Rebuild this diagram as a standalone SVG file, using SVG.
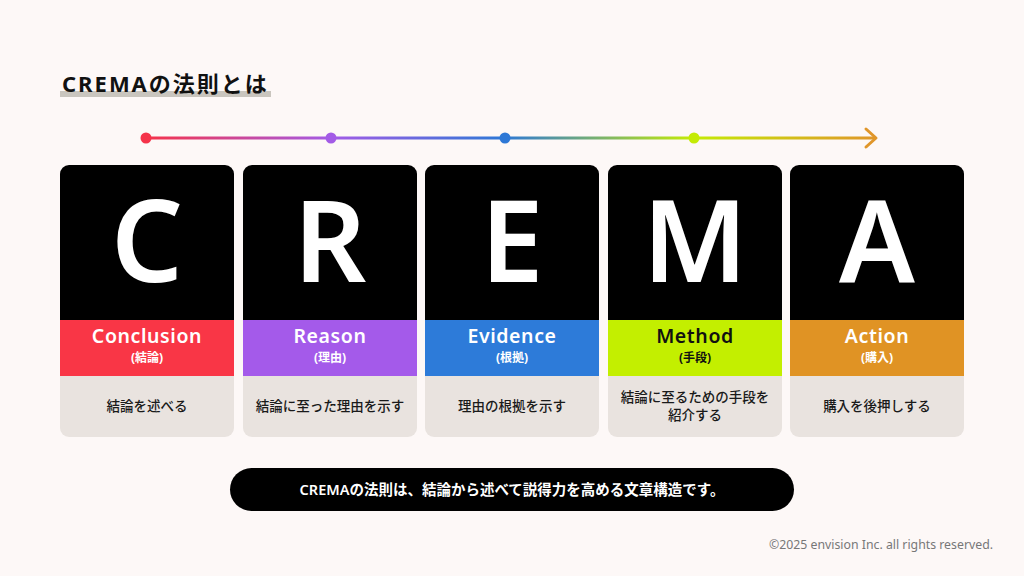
<svg xmlns="http://www.w3.org/2000/svg" width="1024" height="576" viewBox="0 0 1024 576">
<defs>
<linearGradient id="flow" x1="146" y1="0" x2="876" y2="0" gradientUnits="userSpaceOnUse">
<stop offset="0" stop-color="#F5334A"/>
<stop offset="0.253" stop-color="#A35BE6"/>
<stop offset="0.49" stop-color="#2E78D6"/>
<stop offset="0.75" stop-color="#C4EB05"/>
<stop offset="1" stop-color="#E0962A"/>
</linearGradient>
<clipPath id="cc1"><rect x="60" y="165" width="174" height="272" rx="9"/></clipPath>
<clipPath id="cc2"><rect x="243" y="165" width="174" height="272" rx="9"/></clipPath>
<clipPath id="cc3"><rect x="425" y="165" width="174" height="272" rx="9"/></clipPath>
<clipPath id="cc4"><rect x="608" y="165" width="174" height="272" rx="9"/></clipPath>
<clipPath id="cc5"><rect x="790" y="165" width="174" height="272" rx="9"/></clipPath>
</defs>
<style>
text{font-family:"Noto Sans","Noto Sans CJK JP",sans-serif}
.big{font-size:113px;font-weight:600;fill:#fff;text-anchor:middle}
.en{font-size:19.5px;font-weight:600;text-anchor:middle;letter-spacing:0.6px}
.jp{font-size:12px;font-weight:700;text-anchor:middle}
.desc{font-size:13.5px;font-weight:500;fill:#1a1a1a;text-anchor:middle}
.w{fill:#fff}
.k{fill:#111}
.gray{fill:#E9E3DF}
</style>
<rect width="1024" height="576" fill="#FDF8F7"/>

<g id="title">
<rect x="60" y="91" width="211" height="6" fill="#C9C5BE"/>
<text x="62" y="92" font-size="22" font-weight="700" fill="#111" letter-spacing="2">CREMAの法則とは</text>
</g>

<g id="connectors">
<line x1="146" y1="138" x2="875" y2="138" stroke="url(#flow)" stroke-width="3"/>
<polyline points="866,129 876,138 866,147" fill="none" stroke="#E0962A" stroke-width="3" stroke-linecap="round" stroke-linejoin="round"/>
<circle cx="146" cy="138" r="5.5" fill="#F5334A"/>
<circle cx="331" cy="138" r="5.5" fill="#A35BE6"/>
<circle cx="505" cy="138" r="5.5" fill="#2E78D6"/>
<circle cx="694" cy="138" r="5.5" fill="#C4EB05"/>
</g>

<g id="card-c" clip-path="url(#cc1)">
<rect x="60" y="165" width="174" height="155" fill="#000"/>
<rect x="60" y="320" width="174" height="56" fill="#F93646"/>
<rect x="60" y="376" width="174" height="61" class="gray"/>
<text x="147" y="282" class="big">C</text>
<text x="147" y="343" class="en w">Conclusion</text>
<text x="147" y="362" class="jp w">(結論)</text>
<text x="147" y="411" class="desc">結論を述べる</text>
</g>

<g id="card-r" clip-path="url(#cc2)">
<rect x="243" y="165" width="174" height="155" fill="#000"/>
<rect x="243" y="320" width="174" height="56" fill="#A45AEA"/>
<rect x="243" y="376" width="174" height="61" class="gray"/>
<text x="330" y="282" class="big">R</text>
<text x="330" y="343" class="en w">Reason</text>
<text x="330" y="362" class="jp w">(理由)</text>
<text x="330" y="411" class="desc">結論に至った理由を示す</text>
</g>

<g id="card-e" clip-path="url(#cc3)">
<rect x="425" y="165" width="174" height="155" fill="#000"/>
<rect x="425" y="320" width="174" height="56" fill="#2D7BD9"/>
<rect x="425" y="376" width="174" height="61" class="gray"/>
<text x="512" y="282" class="big">E</text>
<text x="512" y="343" class="en w">Evidence</text>
<text x="512" y="362" class="jp w">(根拠)</text>
<text x="512" y="411" class="desc">理由の根拠を示す</text>
</g>

<g id="card-m" clip-path="url(#cc4)">
<rect x="608" y="165" width="174" height="155" fill="#000"/>
<rect x="608" y="320" width="174" height="56" fill="#C3EF00"/>
<rect x="608" y="376" width="174" height="61" class="gray"/>
<text x="695" y="282" class="big">M</text>
<text x="695" y="343" class="en k">Method</text>
<text x="695" y="362" class="jp k">(手段)</text>
<text x="695" y="402" class="desc">結論に至るための手段を</text>
<text x="695" y="420" class="desc">紹介する</text>
</g>

<g id="card-a" clip-path="url(#cc5)">
<rect x="790" y="165" width="174" height="155" fill="#000"/>
<rect x="790" y="320" width="174" height="56" fill="#E09324"/>
<rect x="790" y="376" width="174" height="61" class="gray"/>
<text x="877" y="282" class="big">A</text>
<text x="877" y="343" class="en w">Action</text>
<text x="877" y="362" class="jp w">(購入)</text>
<text x="877" y="411" class="desc">購入を後押しする</text>
</g>

<g id="summary">
<rect x="230" y="468" width="564" height="43" rx="21.5" fill="#000"/>
<text x="512" y="495" font-size="14.5" font-weight="600" fill="#fff" text-anchor="middle">CREMAの法則は、結論から述べて説得力を高める文章構造です。</text>
</g>

<text x="993" y="549" font-size="12.3" fill="#777" text-anchor="end">©2025 envision Inc. all rights reserved.</text>
</svg>
